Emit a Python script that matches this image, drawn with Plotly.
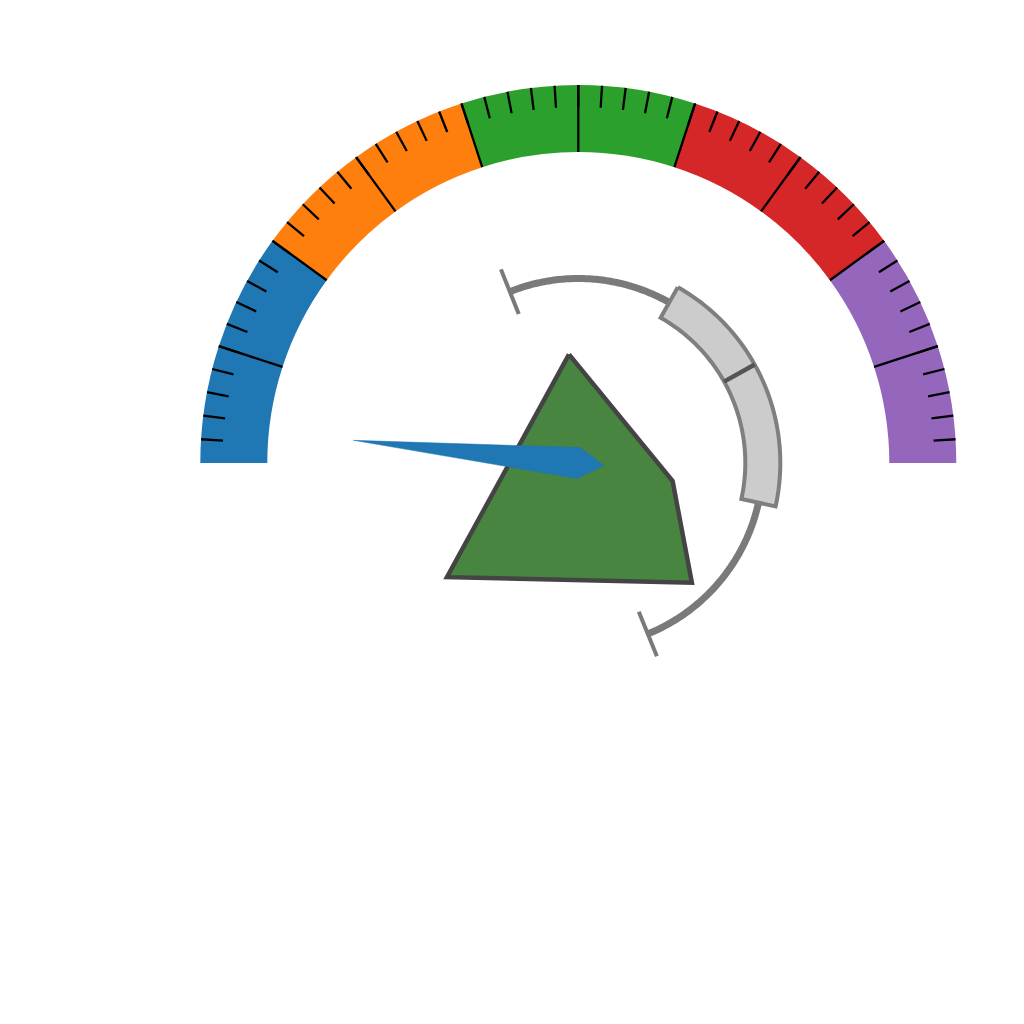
import numpy as np
import plotly.graph_objects as go

# ---------------- data ----------------
# gauge scale 0..100 across the half circle (left -> right)
band_edges = [0, 20, 40, 60, 80, 100]
band_colors = ["#1f77b4", "#ff7f0e", "#2ca02c", "#d62728", "#9467bd"]
minor_tick_values = list(range(2, 100, 2))
major_tick_values = [10, 20, 30, 40, 50, 60, 70, 80, 90]

needle_value = 3.2

# polar box plot (gauge scale)
box_whisker_low = 37.9
box_q1 = 66.4
box_median = 83.8
box_q3 = 106.9
box_whisker_high = 137.7

# radar polygon: angle (deg, clockwise from left) and radius
radar_theta = [85.1, 190.8, 226.5, 319.0]
radar_r = [109, 96, 165, 174]

# ---------------- geometry / style ----------------
R_OUT, R_IN = 378, 311
DEG_PER_UNIT = 180.0 / 100.0

def th(v):
    return np.asarray(v, dtype=float) * DEG_PER_UNIT

fig = go.Figure()

# bands
centers = [(a + b) / 2 for a, b in zip(band_edges[:-1], band_edges[1:])]
widths = [(b - a) * DEG_PER_UNIT for a, b in zip(band_edges[:-1], band_edges[1:])]
fig.add_trace(go.Barpolar(
    r=[R_OUT - R_IN] * len(centers), base=[R_IN] * len(centers),
    theta=th(centers), width=widths,
    marker=dict(color=band_colors, line=dict(width=0)),
    hoverinfo="skip"))

# ticks
def segs(values, r0, r1):
    rr, tt = [], []
    for v in values:
        rr += [r0, r1, None]
        tt += [float(th(v)), float(th(v)), None]
    return rr, tt

rr, tt = segs(minor_tick_values, R_OUT - 22, R_OUT)
fig.add_trace(go.Scatterpolar(r=rr, theta=tt, mode="lines",
                              line=dict(color="black", width=2.3), hoverinfo="skip"))
rr, tt = segs(major_tick_values, R_IN, R_OUT)
fig.add_trace(go.Scatterpolar(r=rr, theta=tt, mode="lines",
                              line=dict(color="black", width=2.3), hoverinfo="skip"))

# box plot
RB = 184.5
HALF = 17.5
def arc(v0, v1, r, n=80):
    t = np.linspace(float(th(v0)), float(th(v1)), n)
    return [r] * n, list(t)

for a, b in [(box_whisker_low, box_q1), (box_q3, box_whisker_high)]:
    r_, t_ = arc(a, b, RB)
    fig.add_trace(go.Scatterpolar(r=r_, theta=t_, mode="lines",
                                  line=dict(color="#7a7a7a", width=7), hoverinfo="skip"))
rr, tt = segs([box_whisker_low, box_whisker_high], RB - 24, RB + 24)
fig.add_trace(go.Scatterpolar(r=rr, theta=tt, mode="lines",
                              line=dict(color="#7a7a7a", width=4), hoverinfo="skip"))
ro, to = arc(box_q1, box_q3, RB + HALF)
ri, ti = arc(box_q3, box_q1, RB - HALF)
fig.add_trace(go.Scatterpolar(r=ro + ri + [ro[0]], theta=to + ti + [to[0]], mode="lines",
                              fill="toself", fillcolor="#cccccc",
                              line=dict(color="#7f7f7f", width=4), hoverinfo="skip"))
rr, tt = segs([box_median], RB - HALF, RB + HALF)
fig.add_trace(go.Scatterpolar(r=rr, theta=tt, mode="lines",
                              line=dict(color="#555555", width=4.5), hoverinfo="skip"))

# radar polygon
fig.add_trace(go.Scatterpolar(r=radar_r + [radar_r[0]], theta=radar_theta + [radar_theta[0]],
                              mode="lines", fill="toself", fillcolor="#478540",
                              line=dict(color="#444444", width=4.5), hoverinfo="skip"))

# needle
tn = float(th(needle_value))
fig.add_trace(go.Scatterpolar(
    r=[226, 15.5, 26, 15.5, 226],
    theta=[tn, tn + 90, tn + 180, tn - 90, tn],
    mode="lines", fill="toself", fillcolor="#1f77b4",
    line=dict(color="#1f77b4", width=0.5), hoverinfo="skip"))

CX, CY = 578.3, 463.0
RPX = 400.0
W = 1024.0
fig.update_layout(
    width=1024, height=1024, margin=dict(l=0, r=0, t=0, b=0),
    paper_bgcolor="white", plot_bgcolor="white", showlegend=False,
    polar=dict(
        domain=dict(x=[(CX - RPX) / W, (CX + RPX) / W],
                    y=[(W - CY - RPX) / W, (W - CY + RPX) / W]),
        bgcolor="white", hole=0,
        radialaxis=dict(range=[0, RPX], visible=False, showgrid=False),
        angularaxis=dict(rotation=180, direction="clockwise", visible=False, showgrid=False),
        barmode="overlay",
    ),
)
fig.write_html("out.html")
